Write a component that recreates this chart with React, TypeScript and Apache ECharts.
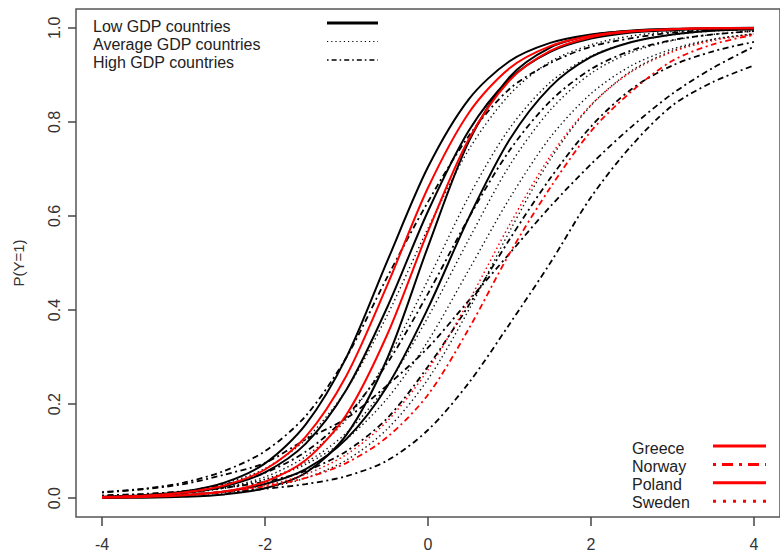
import React, { useEffect, useRef } from "react";
import * as echarts from "echarts";

const X_GRID = [-4, -3.5, -3, -2.5, -2, -1.5, -1, -0.5, 0, 0.5, 1, 1.5, 2, 2.5, 3, 3.5, 4];

// Low GDP countries (black solid)
const LOW_1 = [0.003, 0.006, 0.014, 0.033, 0.074, 0.157, 0.3, 0.504, 0.704, 0.848, 0.929, 0.968, 0.986, 0.994, 0.997, 0.999, 0.999];
const LOW_2 = [0.002, 0.005, 0.011, 0.025, 0.055, 0.116, 0.231, 0.406, 0.61, 0.781, 0.891, 0.949, 0.977, 0.99, 0.995, 0.998, 0.999];
const LOW_3 = [0.0005, 0.001, 0.003, 0.008, 0.021, 0.054, 0.135, 0.297, 0.535, 0.758, 0.895, 0.958, 0.984, 0.994, 0.998, 0.999, 1.0];
const LOW_4 = [0.0014, 0.003, 0.0064, 0.014, 0.03, 0.062, 0.126, 0.238, 0.404, 0.596, 0.762, 0.874, 0.938, 0.97, 0.986, 0.994, 0.997];

// Average GDP countries (black dotted)
const AVG_1 = [0.003, 0.007, 0.015, 0.031, 0.063, 0.125, 0.231, 0.389, 0.574, 0.741, 0.858, 0.928, 0.964, 0.983, 0.992, 0.996, 0.998];
const AVG_2 = [0.0026, 0.0054, 0.011, 0.023, 0.045, 0.089, 0.168, 0.295, 0.464, 0.641, 0.786, 0.884, 0.94, 0.97, 0.985, 0.993, 0.996];
const AVG_3 = [0.003, 0.0055, 0.011, 0.021, 0.04, 0.076, 0.139, 0.241, 0.385, 0.55, 0.707, 0.825, 0.903, 0.948, 0.973, 0.986, 0.993];
const AVG_4 = [0.0034, 0.0063, 0.012, 0.022, 0.04, 0.072, 0.126, 0.212, 0.334, 0.485, 0.637, 0.767, 0.86, 0.92, 0.955, 0.976, 0.987];
const AVG_5 = [0.0015, 0.003, 0.006, 0.0114, 0.022, 0.043, 0.081, 0.147, 0.253, 0.4, 0.567, 0.72, 0.835, 0.909, 0.951, 0.975, 0.987];

// High GDP countries (black dash-dot)
const HIGH_1 = [0.013, 0.02, 0.033, 0.058, 0.1, 0.175, 0.3, 0.47, 0.63, 0.77, 0.87, 0.925, 0.96, 0.978, 0.99, 0.995, 0.997];
const HIGH_2 = [0.004, 0.008, 0.015, 0.029, 0.054, 0.099, 0.174, 0.287, 0.435, 0.596, 0.739, 0.844, 0.912, 0.952, 0.974, 0.986, 0.993];
const HIGH_3 = [0.006, 0.009, 0.014, 0.022, 0.035, 0.058, 0.1, 0.17, 0.28, 0.41, 0.55, 0.68, 0.79, 0.87, 0.92, 0.95, 0.97];
const HIGH_4 = [0.012, 0.019, 0.03, 0.05, 0.075, 0.125, 0.17, 0.24, 0.32, 0.42, 0.52, 0.62, 0.71, 0.79, 0.86, 0.915, 0.96];
const HIGH_5 = [0.003, 0.005, 0.008, 0.013, 0.02, 0.03, 0.047, 0.08, 0.145, 0.245, 0.37, 0.5, 0.64, 0.75, 0.835, 0.885, 0.92];

// Highlighted countries (red)
const GREECE = [0.002, 0.005, 0.012, 0.027, 0.061, 0.131, 0.261, 0.453, 0.66, 0.819, 0.914, 0.961, 0.983, 0.993, 0.997, 0.999, 0.999];
const POLAND = [0.001, 0.0024, 0.006, 0.014, 0.035, 0.081, 0.178, 0.348, 0.567, 0.763, 0.888, 0.951, 0.98, 0.992, 0.997, 0.999, 0.999];
const NORWAY = [0.003, 0.005, 0.008, 0.014, 0.025, 0.043, 0.075, 0.13, 0.22, 0.36, 0.52, 0.66, 0.78, 0.865, 0.93, 0.965, 0.985];
const SWEDEN = [0.002, 0.004, 0.0075, 0.014, 0.027, 0.051, 0.093, 0.164, 0.273, 0.419, 0.581, 0.727, 0.836, 0.907, 0.949, 0.973, 0.986];

const X_TICKS = [-4, -2, 0, 2, 4];
const Y_TICKS = [0, 0.2, 0.4, 0.6, 0.8, 1.0];
const GROUP_LABELS = ["Low GDP countries", "Average GDP countries", "High GDP countries"];
const COUNTRY_LABELS = ["Greece", "Norway", "Poland", "Sweden"];

const FONT = "'Liberation Sans', Arial, Helvetica, sans-serif";
const SOLID_BLACK = { color: "#000", width: 2, type: "solid" as any };
const DOT_BLACK = { color: "#111", width: 1.4, type: [1.4, 3] as any };
const DASHDOT_BLACK = { color: "#000", width: 1.8, type: [2, 3.5, 6, 3.5] as any };
const SOLID_RED = { color: "#ff0000", width: 2, type: "solid" as any };
const DOT_RED = { color: "#ff0000", width: 1.5, type: [1.5, 3] as any };
const DASHDOT_RED = { color: "#ff0000", width: 1.8, type: [2, 3.5, 6, 3.5] as any };

function mk(name: string, vals: number[], ls: any) {
  return {
    name,
    type: "line",
    data: X_GRID.map((x, i) => [x, vals[i]]),
    smooth: 0.3,
    symbol: "none",
    silent: true,
    lineStyle: ls,
  };
}

export default function App() {
  const ref = useRef<HTMLDivElement>(null);
  useEffect(() => {
    if (!ref.current) return;
    const chart = echarts.init(ref.current, null, { renderer: "svg" });
    const series = [
      mk("low1", LOW_1, SOLID_BLACK),
      mk("low2", LOW_2, SOLID_BLACK),
      mk("low3", LOW_3, SOLID_BLACK),
      mk("low4", LOW_4, SOLID_BLACK),
      mk("avg1", AVG_1, DOT_BLACK),
      mk("avg2", AVG_2, DOT_BLACK),
      mk("avg3", AVG_3, DOT_BLACK),
      mk("avg4", AVG_4, DOT_BLACK),
      mk("avg5", AVG_5, DOT_BLACK),
      mk("high1", HIGH_1, DASHDOT_BLACK),
      mk("high2", HIGH_2, DASHDOT_BLACK),
      mk("high3", HIGH_3, DASHDOT_BLACK),
      mk("high4", HIGH_4, DASHDOT_BLACK),
      mk("high5", HIGH_5, DASHDOT_BLACK),
      mk("Greece", GREECE, SOLID_RED),
      mk("Poland", POLAND, SOLID_RED),
      mk("Norway", NORWAY, DASHDOT_RED),
      mk("Sweden", SWEDEN, DOT_RED),
    ];

    const textStyle = { fill: "#222", fontSize: 16, fontFamily: FONT };
    const groupDash: any[] = [null, [1.2, 3], [1.6, 3, 5, 3]];
    const groupWidth = [3, 1.2, 1.6];
    const graphics: any[] = [];
    GROUP_LABELS.forEach((t, i) => {
      graphics.push({
        type: "text",
        x: 93,
        y: 26 + i * 18.3,
        style: { ...textStyle, text: t, verticalAlign: "middle" },
      });
      graphics.push({
        type: "line",
        shape: { x1: 327, y1: 23 + i * 18.5, x2: 378, y2: 23 + i * 18.5 },
        style: { stroke: "#000", lineWidth: groupWidth[i], lineDash: groupDash[i] },
      });
    });
    const countryDash: any[] = [null, [3, 6, 11, 6], null, [3, 7]];
    COUNTRY_LABELS.forEach((t, i) => {
      graphics.push({
        type: "text",
        x: 632,
        y: 448 + i * 18.3,
        style: { ...textStyle, text: t, verticalAlign: "middle" },
      });
      graphics.push({
        type: "line",
        shape: { x1: 713, y1: 446 + i * 18.4, x2: 766, y2: 446 + i * 18.4 },
        style: { stroke: "#ff0000", lineWidth: 3, lineDash: countryDash[i] },
      });
    });

    chart.setOption({
      animation: false,
      backgroundColor: "#fff",
      grid: {
        left: 76,
        top: 9,
        width: 706,
        height: 508,
        show: true,
        borderColor: "#555",
        borderWidth: 1.5,
        backgroundColor: "transparent",
      },
      xAxis: {
        type: "value",
        min: -4.32,
        max: 4.32,
        position: "bottom",
        axisLine: { show: false, onZero: false },
        splitLine: { show: false },
        axisTick: {
          show: true,
          length: 9,
          customValues: X_TICKS,
          lineStyle: { color: "#444", width: 1.5 },
        },
        axisLabel: {
          customValues: X_TICKS,
          formatter: (v: number) => String(v),
          color: "#333",
          fontSize: 16,
          fontFamily: FONT,
          margin: 19,
        },
      },
      yAxis: {
        type: "value",
        min: -0.04,
        max: 1.04,
        position: "left",
        name: "P(Y=1)",
        nameLocation: "middle",
        nameGap: 50,
        nameRotate: 90,
        nameTextStyle: { color: "#333", fontSize: 15, fontFamily: FONT },
        axisLine: { show: false, onZero: false },
        splitLine: { show: false },
        axisTick: {
          show: true,
          length: 8,
          customValues: Y_TICKS,
          lineStyle: { color: "#444", width: 1.5 },
        },
        axisLabel: {
          customValues: Y_TICKS,
          formatter: (v: number) => v.toFixed(1),
          rotate: 90,
          color: "#333",
          fontSize: 16,
          fontFamily: FONT,
          margin: 14,
        },
      },
      graphic: graphics,
      series,
    });
    return () => chart.dispose();
  }, []);
  return (
    <div
      ref={ref}
      style={{ position: "fixed", left: 0, top: 0, width: 780, height: 554, background: "#fff" }}
    />
  );
}
